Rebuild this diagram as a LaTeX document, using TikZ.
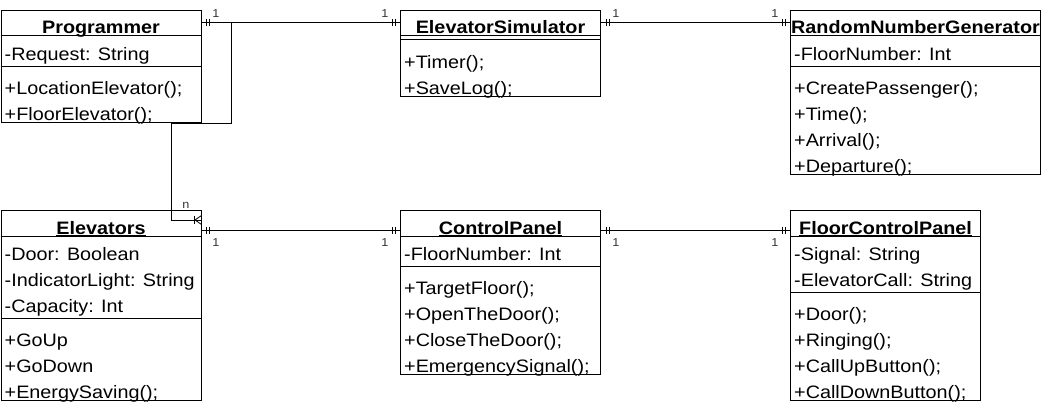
\documentclass[tikz,border=0pt]{standalone}
\usepackage{fontspec}
\setmainfont{Liberation Sans}[FakeStretch=1.1]
\usepackage{tikz}
\usetikzlibrary{calc,decorations.markings}

\begin{document}
\begin{tikzpicture}[x=1pt, y=1pt,
    classbox/.style={draw, line width=1pt, minimum width=200pt, inner sep=0pt, anchor=north west},
    ctitle/.style={anchor=base, inner sep=0pt, font=\fontsize{18}{21}\selectfont\bfseries},
    member/.style={anchor=base west, inner sep=0pt, font=\fontsize{18}{21}\selectfont},
    mult/.style={inner sep=0pt, text=black!80, font=\fontsize{11.5}{13}\selectfont},
    rule/.style={line width=1pt},
    tick/.style={line width=0.8pt},
    onebar/.style={postaction={decorate}, decoration={markings,
        mark=at position 5pt with {\draw[tick] (0,-3.5pt) -- (0,3.5pt);},
        mark=at position 8pt with {\draw[tick] (0,-3.5pt) -- (0,3.5pt);},
        mark=at position -5pt with {\draw[tick] (0,-3.5pt) -- (0,3.5pt);},
        mark=at position -8pt with {\draw[tick] (0,-3.5pt) -- (0,3.5pt);}}}]
    \useasboundingbox (0,0) rectangle (1043,-404);

    % Programmer
    \node[classbox, minimum height=112pt] (prog) at (0.5,-10) {};
    \node[ctitle] (progT) at ([yshift=-24pt]prog.north) {Programmer};
    \draw[rule] ([yshift=-1.5pt]progT.base west) -- ([yshift=-1.5pt]progT.base east);
    \draw[rule] ([yshift=-26pt]prog.north west) -- ([yshift=-26pt]prog.north east);
    \draw[rule] ([yshift=-56pt]prog.north west) -- ([yshift=-56pt]prog.north east);
    \node[member] (progA) at ([shift={(4,-50)}]prog.north west) {-Request: String};
    \foreach \txt [count=\i from 0] in {+LocationElevator();, +FloorElevator();}
        \node[member] (progO\i) at ([shift={(4,-84-26*\i)}]prog.north west) {\txt};

    % ElevatorSimulator
    \node[classbox, minimum height=86pt] (sim) at (400,-10) {};
    \node[ctitle] (simT) at ([yshift=-24pt]sim.north) {ElevatorSimulator};
    \draw[rule] ([yshift=-1.5pt]simT.base west) -- ([yshift=-1.5pt]simT.base east);
    \draw[rule] ([yshift=-26pt]sim.north west) -- ([yshift=-26pt]sim.north east);
    \draw[rule] ([yshift=-30pt]sim.north west) -- ([yshift=-30pt]sim.north east);
    \foreach \txt [count=\i from 0] in {+Timer();, +SaveLog();}
        \node[member] (simO\i) at ([shift={(4,-58-26*\i)}]sim.north west) {\txt};

    % RandomNumberGenerator
    \node[classbox, minimum width=250pt, minimum height=164pt] (rng) at (790,-10) {};
    \node[ctitle] (rngT) at ([yshift=-24pt]rng.north) {RandomNumberGenerator};
    \draw[rule] ([yshift=-1.5pt]rngT.base west) -- ([yshift=-1.5pt]rngT.base east);
    \draw[rule] ([yshift=-26pt]rng.north west) -- ([yshift=-26pt]rng.north east);
    \draw[rule] ([yshift=-56pt]rng.north west) -- ([yshift=-56pt]rng.north east);
    \node[member] (rngA) at ([shift={(4,-50)}]rng.north west) {-FloorNumber: Int};
    \foreach \txt [count=\i from 0] in {+CreatePassenger();, +Time();, +Arrival();, +Departure();}
        \node[member] (rngO\i) at ([shift={(4,-84-26*\i)}]rng.north west) {\txt};

    % Elevators
    \node[classbox, minimum height=190pt] (elev) at (0.5,-210) {};
    \node[ctitle] (elevT) at ([yshift=-24pt]elev.north) {Elevators};
    \draw[rule] ([yshift=-1.5pt]elevT.base west) -- ([yshift=-1.5pt]elevT.base east);
    \draw[rule] ([yshift=-26pt]elev.north west) -- ([yshift=-26pt]elev.north east);
    \draw[rule] ([yshift=-108pt]elev.north west) -- ([yshift=-108pt]elev.north east);
    \foreach \txt [count=\i from 0] in {-Door: Boolean, -IndicatorLight: String, -Capacity: Int}
        \node[member] (elevA\i) at ([shift={(4,-50-26*\i)}]elev.north west) {\txt};
    \foreach \txt [count=\i from 0] in {+GoUp, +GoDown, +EnergySaving();}
        \node[member] (elevO\i) at ([shift={(4,-136-26*\i)}]elev.north west) {\txt};

    % ControlPanel
    \node[classbox, minimum height=164pt] (panel) at (400,-210) {};
    \node[ctitle] (panelT) at ([yshift=-24pt]panel.north) {ControlPanel};
    \draw[rule] ([yshift=-1.5pt]panelT.base west) -- ([yshift=-1.5pt]panelT.base east);
    \draw[rule] ([yshift=-26pt]panel.north west) -- ([yshift=-26pt]panel.north east);
    \draw[rule] ([yshift=-56pt]panel.north west) -- ([yshift=-56pt]panel.north east);
    \node[member] (panelA) at ([shift={(4,-50)}]panel.north west) {-FloorNumber: Int};
    \foreach \txt [count=\i from 0] in {+TargetFloor();, +OpenTheDoor();, +CloseTheDoor();, +EmergencySignal();}
        \node[member] (panelO\i) at ([shift={(4,-84-26*\i)}]panel.north west) {\txt};

    % FloorControlPanel
    \node[classbox, minimum width=190pt, minimum height=190pt] (floor) at (790,-210) {};
    \node[ctitle] (floorT) at ([yshift=-24pt]floor.north) {FloorControlPanel};
    \draw[rule] ([yshift=-1.5pt]floorT.base west) -- ([yshift=-1.5pt]floorT.base east);
    \draw[rule] ([yshift=-26pt]floor.north west) -- ([yshift=-26pt]floor.north east);
    \draw[rule] ([yshift=-82pt]floor.north west) -- ([yshift=-82pt]floor.north east);
    \foreach \txt [count=\i from 0] in {-Signal: String, -ElevatorCall: String}
        \node[member] (floorA\i) at ([shift={(4,-50-26*\i)}]floor.north west) {\txt};
    \foreach \txt [count=\i from 0] in {+Door();, +Ringing();, +CallUpButton();, +CallDownButton();}
        \node[member] (floorO\i) at ([shift={(4,-110-26*\i)}]floor.north west) {\txt};

    % Associations, one to one
    \draw[rule, onebar] ([yshift=-13pt]prog.north east) -- ([yshift=-13pt]sim.north west)
        node[mult, at start, xshift=14.5pt, yshift=9pt] (m1) {1}
        node[mult, at end, xshift=-15pt, yshift=9pt] (m2) {1};
    \draw[rule, onebar] ([yshift=-13pt]sim.north east) -- ([yshift=-13pt]rng.north west)
        node[mult, at start, xshift=15pt, yshift=9pt] (m3) {1}
        node[mult, at end, xshift=-15pt, yshift=9pt] (m4) {1};
    \draw[rule, onebar] ([yshift=-20pt]elev.north east) -- ([yshift=-20pt]panel.north west)
        node[mult, at start, xshift=14.5pt, yshift=-13pt] (m5) {1}
        node[mult, at end, xshift=-15pt, yshift=-13pt] (m6) {1};
    \draw[rule, onebar] ([yshift=-20pt]panel.north east) -- ([yshift=-20pt]floor.north west)
        node[mult, at start, xshift=15pt, yshift=-13pt] (m7) {1}
        node[mult, at end, xshift=-15pt, yshift=-13pt] (m8) {1};

    % Programmer to Elevators, one to many
    \coordinate (ef) at ([yshift=-10pt]elev.north east);
    \draw[rule] ([yshift=-13pt]prog.north east) -| ([xshift=30pt]prog.south east)
        -- ([xshift=-30pt]prog.south east) |- (ef)
        node[mult, at end, xshift=-15.5pt, yshift=15pt] (mn) {n};
    \draw[tick] ([xshift=-7pt]ef) ++(0,-4) -- ++(0,8);
    \draw[tick] ([shift={(0,4.5)}]ef) -- ([xshift=-6.5pt]ef) -- ([shift={(0,-4.5)}]ef);
\end{tikzpicture}
\end{document}
